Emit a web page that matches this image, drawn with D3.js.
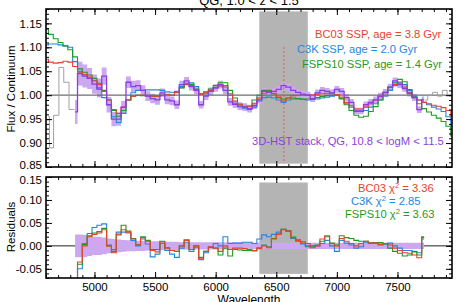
<!DOCTYPE html>
<html>
<head>
<meta charset="utf-8">
<script src="https://cdn.jsdelivr.net/npm/d3@7"></script>
<style>
  body { margin: 0; background: #fff; }
  svg { display: block; font-family: "Liberation Sans", Arial, sans-serif; }
</style>
</head>
<body>
<div id="chart"></div>
<script>
// ---- data ----
const modelWave = [4600,4640,4680,4720,4760,4800,
  4840,4880,4920,4960,5000,5040,5080,5120,5160,5200,
  5240,5280,5320,5360,5400,5440,5480,5520,5560,5600,
  5640,5680,5720,5760,5800,5840,5880,5920,5960,6000,
  6040,6080,6120,6160,6200,6240,6280,6320,6360,6400,
  6440,6480,6520,6560,6600,6640,6680,6720,6760,6800,
  6840,6880,6920,6960,7000,7040,7080,7120,7160,7200,
  7240,7280,7320,7360,7400,7440,7480,7520,7560,7600,
  7640,7680,7720,7760,7800,7840,7880,7920,7960];

const bc03Flux = [1.075,1.069,1.067,1.068,1.071,1.069,1.060,1.048,1.043,1.038,
  1.030,1.022,1.008,0.990,0.970,0.962,0.975,0.990,0.998,1.000,
  1.000,0.999,0.998,0.998,1.000,1.002,1.000,1.006,1.016,1.023,
  1.020,1.012,1.002,1.006,1.010,1.016,1.019,1.017,1.003,0.988,
  0.981,0.977,0.977,0.982,0.994,1.004,1.008,1.004,0.996,0.988,
  0.994,0.999,1.000,1.000,1.000,1.001,1.002,1.003,1.004,1.004,
  1.002,0.996,0.985,0.978,0.971,0.971,0.975,0.982,0.990,0.997,
  1.006,1.016,1.022,1.025,1.017,1.005,0.995,0.990,0.985,0.982,
  0.979,0.977,0.974,0.968,0.956];

const c3kFlux = [1.105,1.107,1.107,1.105,1.103,1.100,1.070,1.050,1.043,1.036,
  1.030,1.012,0.995,0.980,0.955,0.943,0.962,0.990,1.005,1.010,
  1.010,1.011,1.011,1.011,1.010,1.007,1.006,1.008,1.018,1.025,
  1.026,1.018,1.003,1.004,1.010,1.016,1.022,1.020,1.000,0.983,
  0.976,0.973,0.970,0.975,0.988,0.995,0.996,0.994,0.990,0.985,
  0.990,0.992,0.992,0.991,0.990,0.991,0.992,0.994,0.996,0.998,
  1.000,0.992,0.982,0.975,0.966,0.966,0.968,0.975,0.982,0.990,
  0.998,1.010,1.020,1.027,1.022,1.010,0.998,0.990,0.985,0.980,
  0.975,0.971,0.966,0.955,0.937];

const fspsFlux = [1.138,1.127,1.118,1.110,1.103,1.095,1.080,1.055,1.048,1.042,
  1.035,1.025,1.010,0.990,0.968,0.956,0.968,0.990,0.998,1.000,
  0.999,0.999,0.998,0.998,1.000,1.001,1.000,1.005,1.015,1.022,
  1.022,1.013,1.003,1.007,1.013,1.020,1.026,1.026,1.010,0.994,
  0.981,0.976,0.977,0.990,1.000,1.010,1.010,1.003,0.995,0.992,
  0.994,0.994,0.993,0.992,0.992,0.993,0.995,0.997,0.999,1.000,
  1.000,0.993,0.980,0.968,0.958,0.954,0.956,0.966,0.976,0.990,
  1.005,1.017,1.026,1.033,1.028,1.012,0.996,0.982,0.972,0.965,
  0.958,0.952,0.945,0.935,0.915];

const dataWave = [4840,4880,4920,4960,5000,5040,5080,5120,5160,5200,
  5240,5280,5320,5360,5400,5440,5480,5520,5560,5600,
  5640,5680,5720,5760,5800,5840,5880,5920,5960,6000,
  6040,6080,6120,6160,6200,6240,6280,6320,6360,6400,
  6440,6480,6520,6560,6600,6640,6680,6720,6760,6800,
  6840,6880,6920,6960,7000,7040,7080,7120,7160,7200,
  7240,7280,7320,7360,7400,7440,7480,7520,7560,7600,
  7640,7680,7720];

const stackFlux = [0.965,1.045,1.040,1.035,1.023,1.015,1.040,0.980,0.950,0.950,
  0.975,1.027,1.018,1.020,1.010,0.998,0.993,0.990,1.005,0.990,
  0.988,0.980,1.022,1.030,1.018,1.010,0.980,0.998,1.008,1.015,
  1.022,1.010,0.986,0.981,0.977,0.975,0.972,0.978,0.990,1.008,
  1.006,1.008,1.012,1.020,1.017,1.010,1.006,1.002,1.000,0.993,
  1.005,1.010,1.008,1.005,1.012,1.008,0.995,0.985,0.967,0.967,
  0.980,0.985,0.990,0.998,1.006,1.017,1.030,1.022,1.014,1.004,
  0.995,0.970,0.990];

const stackErr = [0.025,0.025,0.024,0.022,0.020,0.020,0.018,0.016,0.015,0.014,
  0.013,0.012,0.012,0.011,0.011,0.010,0.010,0.010,0.009,0.009,
  0.009,0.009,0.008,0.008,0.008,0.008,0.008,0.008,0.008,0.008,
  0.008,0.008,0.008,0.008,0.008,0.008,0.008,0.007,0.007,0.007,
  0.007,0.007,0.007,0.007,0.007,0.007,0.007,0.007,0.007,0.007,
  0.007,0.007,0.007,0.007,0.007,0.007,0.007,0.007,0.007,0.007,
  0.007,0.007,0.007,0.007,0.007,0.007,0.007,0.007,0.007,0.007,
  0.007,0.007,0.007];

const bc03Resid = [-0.09,-0.035,0.0,0.02,0.025,0.028,0.035,0.0,-0.015,0.024,
  0.035,0.03,0.015,0.002,0.018,0.01,-0.01,-0.013,0.009,-0.005,
  -0.01,-0.012,0.0,0.012,-0.008,0.0,-0.028,-0.012,-0.002,-0.005,
  -0.012,0.0,-0.008,-0.005,-0.005,-0.006,-0.008,-0.01,-0.006,0.0,
  -0.004,0.015,0.025,0.035,0.032,0.018,0.012,0.006,0.005,-0.004,
  0.0,0.015,0.022,0.005,0.0,0.016,0.01,0.005,0.0,0.005,
  0.01,0.006,0.006,0.003,0.005,0.002,-0.005,-0.01,-0.015,-0.016,
  -0.02,-0.026,0.018];

const c3kResid = [-0.09,-0.05,0.005,0.027,0.04,0.045,0.048,0.002,-0.008,0.03,
  0.03,0.028,0.012,0.0,0.015,0.004,-0.024,-0.018,0.005,-0.01,
  -0.018,-0.025,-0.005,0.008,-0.012,-0.003,-0.03,-0.015,-0.003,0.005,
  0.0,0.02,0.005,0.006,0.006,0.008,0.008,0.005,0.015,0.024,
  0.02,0.025,0.03,0.036,0.032,0.016,0.01,0.004,-0.002,-0.002,
  0.0,0.005,0.012,0.0,-0.012,0.012,0.006,0.002,-0.005,-0.002,
  0.008,0.006,0.007,0.002,0.004,0.006,0.0,-0.005,-0.01,-0.01,
  -0.012,-0.015,0.015];

const fspsResid = [-0.09,-0.04,0.003,0.022,0.028,0.031,0.038,0.0,-0.012,0.026,
  0.045,0.032,0.016,0.003,0.02,0.012,-0.008,-0.008,0.01,-0.004,
  -0.01,-0.012,0.0,0.013,-0.008,0.0,-0.025,-0.012,-0.003,-0.005,
  -0.02,-0.005,-0.022,-0.008,-0.009,-0.01,-0.01,-0.011,-0.004,0.002,
  -0.002,0.016,0.026,0.036,0.033,0.019,0.013,0.009,0.0,0.0,
  0.002,0.01,0.02,0.006,0.002,0.022,0.018,0.016,0.012,0.01,
  0.01,0.006,0.007,0.007,0.004,-0.005,-0.012,-0.016,-0.022,-0.02,
  -0.013,-0.02,0.02];

// pixels outside the fitted range
const grayLeftWave = [4618,4640,4685,4728,4765,4815,4836];
const grayLeftFlux = [0.955,0.890,0.958,1.058,1.027,0.970,0.970];
const grayRightWave = [7730,7770,7810,7850,7890,7930,7950];
const grayRightFlux = [0.990,1.000,1.006,0.998,1.010,1.000,1.000];

const maskRange = [6360, 6760];
const halpha = 6563;

const xTicks = [5000, 5500, 6000, 6500, 7000, 7500];
const topYTicks = [0.85, 0.90, 0.95, 1.00, 1.05, 1.10, 1.15];
const botYTicks = [-0.05, 0.00, 0.05, 0.10, 0.15];

const RED = '#e6432c', BLUE = '#2585e0', GREEN = '#1f9a22', PURPLE = '#8a3fe0';
const BAND = '#cba8f0', GREY = '#b4b4b4';

// ---- layout ----
const W = 463, H = 302;
const X0 = 46, X1 = 452;

const svg = d3.select('#chart').append('svg')
  .attr('width', W).attr('height', H);

const x = d3.scaleLinear().domain([4600, 7950]).range([X0, X1]);
const yTop = d3.scaleLinear().domain([0.85, 1.18]).range([167, 9]);
const yBot = d3.scaleLinear().domain([-0.07, 0.15]).range([278, 177]);

const defs = svg.append('defs');
[['clipTop', yTop], ['clipBot', yBot]].forEach(([id, y]) => {
  defs.append('clipPath').attr('id', id).append('rect')
    .attr('x', X0).attr('y', y.range()[1])
    .attr('width', X1 - X0).attr('height', y.range()[0] - y.range()[1]);
});

const step = (xs, ys, y) => d3.line()
  .curve(d3.curveStep)
  .x((d, i) => x(xs[i]))
  .y(d => y(d))(ys);

// ---------------- top panel ----------------
const gTop = svg.append('g').attr('clip-path', 'url(#clipTop)');

gTop.append('rect')
  .attr('x', x(maskRange[0])).attr('y', yTop(1.175))
  .attr('width', x(maskRange[1]) - x(maskRange[0]))
  .attr('height', yTop(0.857) - yTop(1.175))
  .attr('fill', GREY);

gTop.append('path')
  .datum(stackFlux)
  .attr('fill', BAND)
  .attr('d', d3.area().curve(d3.curveStep)
    .x((d, i) => x(dataWave[i]))
    .y0((d, i) => yTop(d - stackErr[i]))
    .y1((d, i) => yTop(d + stackErr[i])));

gTop.append('line')
  .attr('x1', x(halpha)).attr('x2', x(halpha))
  .attr('y1', yTop(1.10)).attr('y2', yTop(0.857))
  .attr('stroke', RED).attr('stroke-width', 1)
  .attr('stroke-dasharray', '1.5,2.5');

gTop.append('line')
  .attr('x1', X0).attr('x2', X1)
  .attr('y1', yTop(1)).attr('y2', yTop(1))
  .attr('stroke', '#6e6e6e').attr('stroke-width', 1.2);

[[grayLeftWave, grayLeftFlux], [grayRightWave, grayRightFlux]].forEach(([w, f]) => {
  gTop.append('path').attr('d', step(w, f, yTop))
    .attr('fill', 'none').attr('stroke', '#a0a0a0').attr('stroke-width', 1);
});

[[c3kFlux, BLUE], [fspsFlux, GREEN], [bc03Flux, RED]].forEach(([f, c]) => {
  gTop.append('path').attr('d', step(modelWave, f, yTop))
    .attr('fill', 'none').attr('stroke', c).attr('stroke-width', 1.1);
});

gTop.append('path').attr('d', step(dataWave, stackFlux, yTop))
  .attr('fill', 'none').attr('stroke', PURPLE).attr('stroke-width', 1.3);

// ---------------- residual panel ----------------
const gBot = svg.append('g').attr('clip-path', 'url(#clipBot)');

gBot.append('rect')
  .attr('x', x(maskRange[0])).attr('y', yBot(0.138))
  .attr('width', x(maskRange[1]) - x(maskRange[0]))
  .attr('height', yBot(-0.061) - yBot(0.138))
  .attr('fill', GREY);

gBot.append('line')
  .attr('x1', X0).attr('x2', X1)
  .attr('y1', yBot(0)).attr('y2', yBot(0))
  .attr('stroke', '#222').attr('stroke-width', 1);

gBot.append('path')
  .datum(stackErr)
  .attr('fill', BAND)
  .attr('d', d3.area().curve(d3.curveStep)
    .x((d, i) => x(dataWave[i]))
    .y0(d => yBot(-d))
    .y1(d => yBot(d)));

[[c3kResid, BLUE], [fspsResid, GREEN], [bc03Resid, RED]].forEach(([r, c]) => {
  gBot.append('path').attr('d', step(dataWave, r, yBot))
    .attr('fill', 'none').attr('stroke', c).attr('stroke-width', 1.1);
});

// ---------------- axes ----------------
const xMinor = d3.range(4600, 7951, 100);

function drawAxes(y, yMajor, xLabels, edgeShift) {
  const yb = y.range()[0], yt = y.range()[1];
  const [d0, d1] = y.domain();
  const yMinor = d3.range(Math.round(d0 * 100), Math.round(d1 * 100) + 1).map(v => v / 100);
  const add = (axis, tr) => {
    const a = svg.append('g').attr('transform', tr).call(axis)
      .attr('font-family', '"Liberation Sans", Arial, sans-serif')
      .attr('font-size', 11.5);
    a.select('.domain').remove();
    a.selectAll('line').attr('stroke', '#000');
    a.selectAll('text').attr('fill', '#000');
    return a;
  };
  add(d3.axisBottom(x).tickValues(xTicks).tickSize(-6).tickPadding(5)
    .tickFormat(xLabels ? d => d : ''), `translate(0,${yb})`);
  add(d3.axisBottom(x).tickValues(xMinor).tickSize(-3).tickFormat(''), `translate(0,${yb})`);
  add(d3.axisTop(x).tickValues(xTicks).tickSize(-6).tickFormat(''), `translate(0,${yt})`);
  add(d3.axisTop(x).tickValues(xMinor).tickSize(-3).tickFormat(''), `translate(0,${yt})`);
  const left = add(d3.axisLeft(y).tickValues(yMajor).tickSize(-6).tickPadding(4)
    .tickFormat(d => d.toFixed(2)), `translate(${X0},0)`);
  // keep the labels at the panel edges clear of the other panel
  left.selectAll('.tick text')
    .attr('transform', d => edgeShift[d.toFixed(2)] ? `translate(0,${edgeShift[d.toFixed(2)]})` : null);
  add(d3.axisLeft(y).tickValues(yMinor).tickSize(-3).tickFormat(''), `translate(${X0},0)`);
  add(d3.axisRight(y).tickValues(yMajor).tickSize(-6).tickFormat(''), `translate(${X1},0)`);
  add(d3.axisRight(y).tickValues(yMinor).tickSize(-3).tickFormat(''), `translate(${X1},0)`);
  svg.append('rect')
    .attr('x', X0).attr('y', yt).attr('width', X1 - X0).attr('height', yb - yt)
    .attr('fill', 'none').attr('stroke', '#000').attr('stroke-width', 1.6);
}
drawAxes(yTop, topYTicks, false, {'0.85': -2.5});
drawAxes(yBot, botYTicks, true, {'0.15': 2.5});

// ---------------- labels ----------------
svg.append('text')
  .attr('x', 249).attr('y', 4.5).attr('text-anchor', 'middle')
  .attr('font-size', 13).text('QG, 1.0 < z < 1.5');

svg.append('text')
  .attr('transform', 'translate(15,89) rotate(-90)')
  .attr('text-anchor', 'middle').attr('font-size', 11.5)
  .text('Flux / Continuum');

svg.append('text')
  .attr('transform', 'translate(15,227) rotate(-90)')
  .attr('text-anchor', 'middle').attr('font-size', 11.5)
  .text('Residuals');

svg.append('text')
  .attr('x', 249).attr('y', 303.5).attr('text-anchor', 'middle')
  .attr('font-size', 12).text('Wavelength');

const topLegend = [
  {text: 'BC03 SSP, age = 3.8 Gyr', color: RED, x: 315, y: 38},
  {text: 'C3K SSP, age = 2.0 Gyr', color: BLUE, x: 297, y: 53},
  {text: 'FSPS10 SSP, age = 1.4 Gyr', color: GREEN, x: 302, y: 68},
  {text: '3D-HST stack, QG, 10.8 < logM < 11.5', color: PURPLE, x: 252, y: 145}
];
svg.selectAll('text.leg').data(topLegend).join('text')
  .attr('class', 'leg')
  .attr('x', d => d.x).attr('y', d => d.y)
  .attr('fill', d => d.color).attr('font-size', 11.2)
  .text(d => d.text);

const chiLegend = [
  {name: 'BC03', chi: '3.36', color: RED, x: 358, y: 192},
  {name: 'C3K', chi: '2.85', color: BLUE, x: 351, y: 205},
  {name: 'FSPS10', chi: '3.63', color: GREEN, x: 345, y: 218}
];
chiLegend.forEach(d => {
  const t = svg.append('text')
    .attr('x', d.x).attr('y', d.y)
    .attr('fill', d.color).attr('font-size', 11.2);
  t.append('tspan').text(d.name + ' \u03c7');
  t.append('tspan').attr('dy', -4).attr('font-size', 7.5).text('2');
  t.append('tspan').attr('dy', 4).text(' = ' + d.chi);
});
</script>
</body>
</html>
